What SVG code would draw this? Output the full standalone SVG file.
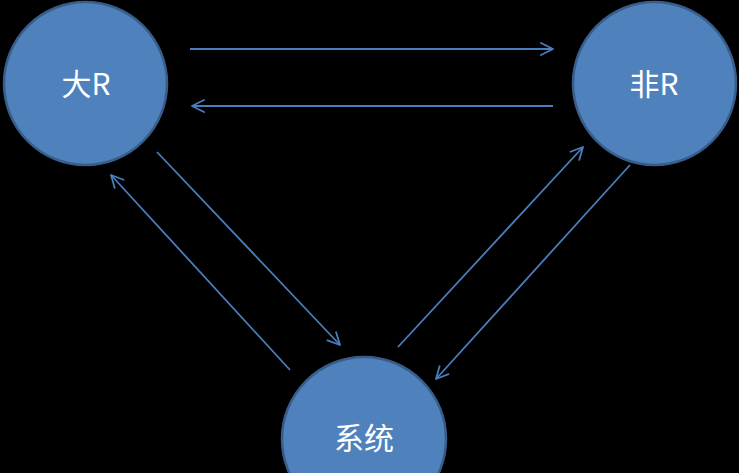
<svg xmlns="http://www.w3.org/2000/svg" width="739" height="473" viewBox="0 0 739 473">
<style>
.node circle{fill:#4f81bd;stroke:#385d8a;stroke-width:2.5}
.node text{fill:#ffffff;font-family:"Noto Sans CJK SC","Noto Sans",sans-serif;font-size:30px;text-anchor:middle;dominant-baseline:central}
.conn line{stroke:#4a7ebb;stroke-width:1.8;fill:none;marker-end:url(#arr)}
</style>
<defs>
<marker id="arr" viewBox="0 0 16 16" refX="15" refY="8" markerWidth="16" markerHeight="16" markerUnits="userSpaceOnUse" orient="auto">
<path d="M3,2 L15,8 L3,14" fill="none" stroke="#4a7ebb" stroke-width="1.8" stroke-linecap="round" stroke-linejoin="round"/>
</marker>
</defs>
<rect width="739" height="473" fill="#000000"/>
<g id="connectors" class="conn">
<line x1="190" y1="49" x2="553" y2="49"/>
<line x1="553" y1="106" x2="192" y2="106"/>
<line x1="157" y1="152" x2="340" y2="345"/>
<line x1="290" y1="370" x2="111" y2="175"/>
<line x1="398" y1="347" x2="583" y2="147"/>
<line x1="630" y1="165" x2="436" y2="379"/>
</g>
<g id="node-dar" class="node">
<circle cx="85.5" cy="83.5" r="81.5"/>
<text x="86" y="82">大R</text>
</g>
<g id="node-feir" class="node">
<circle cx="654.5" cy="83.5" r="81.5"/>
<text x="654" y="82">非R</text>
</g>
<g id="node-xitong" class="node">
<circle cx="364" cy="439" r="82"/>
<text x="364" y="436">系统</text>
</g>
</svg>
